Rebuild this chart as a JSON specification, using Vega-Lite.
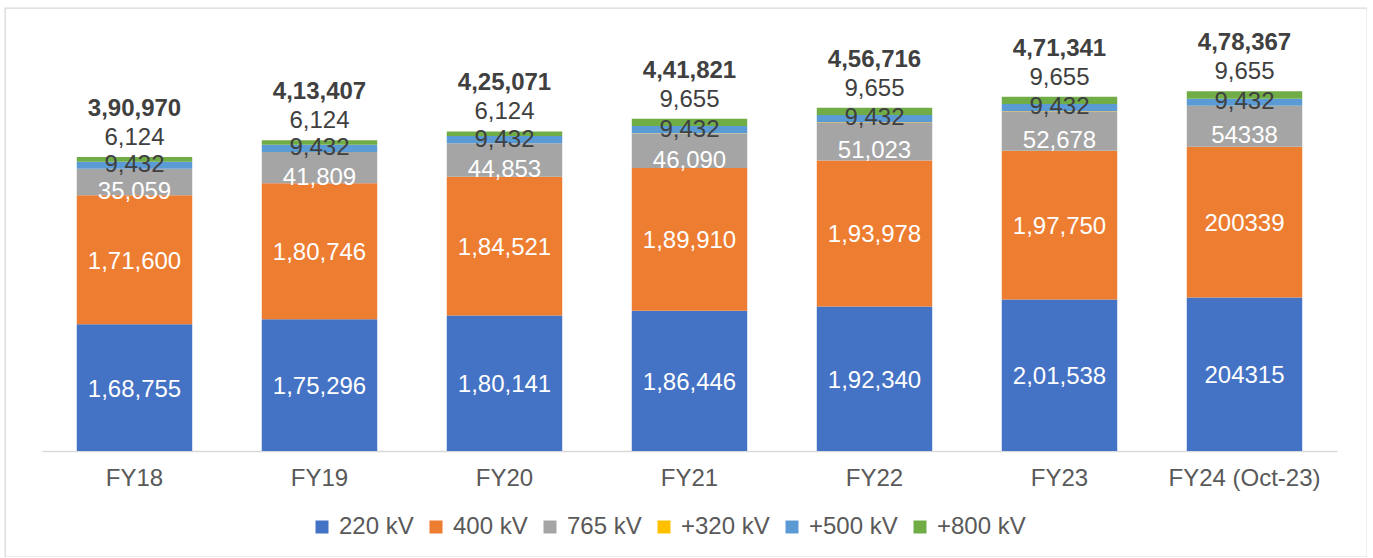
{
  "$schema": "https://vega.github.io/schema/vega-lite/v6.json",
  "autosize": {"type": "none"},
  "padding": {"left": 5, "top": 8, "right": 0, "bottom": 0},
  "width": 1362,
  "height": 549,
  "background": "white",
  "config": {
    "view": {"stroke": "#D9D9D9", "strokeWidth": 1.3},
    "font": "Liberation Sans",
    "text": {"font": "Liberation Sans", "fontSize": 24, "baseline": "middle", "align": "center"}
  },
  "datasets": {
    "segments": [
      {"year": "FY18", "series": "220 kV", "value": 168755, "label": "1,68,755"},
      {"year": "FY18", "series": "400 kV", "value": 171600, "label": "1,71,600"},
      {"year": "FY18", "series": "765 kV", "value": 35059, "label": "35,059"},
      {"year": "FY18", "series": "+320 kV", "value": 0, "label": ""},
      {"year": "FY18", "series": "+500 kV", "value": 9432, "label": "9,432"},
      {"year": "FY18", "series": "+800 kV", "value": 6124, "label": "6,124"},
      {"year": "FY19", "series": "220 kV", "value": 175296, "label": "1,75,296"},
      {"year": "FY19", "series": "400 kV", "value": 180746, "label": "1,80,746"},
      {"year": "FY19", "series": "765 kV", "value": 41809, "label": "41,809"},
      {"year": "FY19", "series": "+320 kV", "value": 0, "label": ""},
      {"year": "FY19", "series": "+500 kV", "value": 9432, "label": "9,432"},
      {"year": "FY19", "series": "+800 kV", "value": 6124, "label": "6,124"},
      {"year": "FY20", "series": "220 kV", "value": 180141, "label": "1,80,141"},
      {"year": "FY20", "series": "400 kV", "value": 184521, "label": "1,84,521"},
      {"year": "FY20", "series": "765 kV", "value": 44853, "label": "44,853"},
      {"year": "FY20", "series": "+320 kV", "value": 0, "label": ""},
      {"year": "FY20", "series": "+500 kV", "value": 9432, "label": "9,432"},
      {"year": "FY20", "series": "+800 kV", "value": 6124, "label": "6,124"},
      {"year": "FY21", "series": "220 kV", "value": 186446, "label": "1,86,446"},
      {"year": "FY21", "series": "400 kV", "value": 189910, "label": "1,89,910"},
      {"year": "FY21", "series": "765 kV", "value": 46090, "label": "46,090"},
      {"year": "FY21", "series": "+320 kV", "value": 288, "label": ""},
      {"year": "FY21", "series": "+500 kV", "value": 9432, "label": "9,432"},
      {"year": "FY21", "series": "+800 kV", "value": 9655, "label": "9,655"},
      {"year": "FY22", "series": "220 kV", "value": 192340, "label": "1,92,340"},
      {"year": "FY22", "series": "400 kV", "value": 193978, "label": "1,93,978"},
      {"year": "FY22", "series": "765 kV", "value": 51023, "label": "51,023"},
      {"year": "FY22", "series": "+320 kV", "value": 288, "label": ""},
      {"year": "FY22", "series": "+500 kV", "value": 9432, "label": "9,432"},
      {"year": "FY22", "series": "+800 kV", "value": 9655, "label": "9,655"},
      {"year": "FY23", "series": "220 kV", "value": 201538, "label": "2,01,538"},
      {"year": "FY23", "series": "400 kV", "value": 197750, "label": "1,97,750"},
      {"year": "FY23", "series": "765 kV", "value": 52678, "label": "52,678"},
      {"year": "FY23", "series": "+320 kV", "value": 288, "label": ""},
      {"year": "FY23", "series": "+500 kV", "value": 9432, "label": "9,432"},
      {"year": "FY23", "series": "+800 kV", "value": 9655, "label": "9,655"},
      {"year": "FY24 (Oct-23)", "series": "220 kV", "value": 204315, "label": "204315"},
      {"year": "FY24 (Oct-23)", "series": "400 kV", "value": 200339, "label": "200339"},
      {"year": "FY24 (Oct-23)", "series": "765 kV", "value": 54338, "label": "54338"},
      {"year": "FY24 (Oct-23)", "series": "+320 kV", "value": 288, "label": ""},
      {"year": "FY24 (Oct-23)", "series": "+500 kV", "value": 9432, "label": "9,432"},
      {"year": "FY24 (Oct-23)", "series": "+800 kV", "value": 9655, "label": "9,655"}
    ],
    "totals": [
      {"year": "FY18", "total": 390970, "label": "3,90,970"},
      {"year": "FY19", "total": 413407, "label": "4,13,407"},
      {"year": "FY20", "total": 425071, "label": "4,25,071"},
      {"year": "FY21", "total": 441821, "label": "4,41,821"},
      {"year": "FY22", "total": 456716, "label": "4,56,716"},
      {"year": "FY23", "total": 471341, "label": "4,71,341"},
      {"year": "FY24 (Oct-23)", "total": 478367, "label": "4,78,367"}
    ]
  },
  "layer": [
    {
      "data": {"name": "segments"},
      "transform": [
        {"calculate": "indexof(['220 kV','400 kV','765 kV','+320 kV','+500 kV','+800 kV'], datum.series)", "as": "k"},
        {"stack": "value", "groupby": ["year"], "sort": [{"field": "k", "order": "ascending"}], "as": ["v0", "v1"]},
        {"calculate": "(datum.v0 + datum.v1) / 2", "as": "mid"}
      ],
      "layer": [
        {
          "mark": {"type": "bar"},
          "encoding": {
            "x": {
              "field": "year", "type": "nominal", "sort": null,
              "scale": {"range": [37, 1332], "paddingInner": 0.376, "paddingOuter": 0.188},
              "axis": {
                "title": null, "labelAngle": 0, "ticks": false, "offset": -106,
                "domainColor": "#D9D9D9", "domainWidth": 1.5,
                "labelFont": "Liberation Sans", "labelFontSize": 24, "labelColor": "#595959",
                "labelPadding": 15
              }
            },
            "y": {
              "field": "v0", "type": "quantitative",
              "scale": {"domain": [0, 560000], "range": [443, 22], "nice": false, "zero": true},
              "axis": null
            },
            "y2": {"field": "v1"},
            "color": {
              "field": "series", "type": "nominal",
              "scale": {
                "domain": ["220 kV", "400 kV", "765 kV", "+320 kV", "+500 kV", "+800 kV"],
                "range": ["#4472C4", "#ED7D31", "#A5A5A5", "#FFC000", "#5B9BD5", "#70AD47"]
              },
              "legend": {
                "title": null, "orient": "none", "direction": "horizontal",
                "legendX": 305, "legendY": 507,
                "symbolType": "square", "symbolSize": 169, "symbolStrokeWidth": 0,
                "labelFont": "Liberation Sans", "labelFontSize": 24, "labelColor": "#595959",
                "labelOffset": 5, "columnPadding": 10
              }
            }
          }
        },
        {
          "transform": [{"filter": "datum.series === '220 kV' || datum.series === '400 kV'"}],
          "mark": {"type": "text", "color": "white", "dy": 2},
          "encoding": {
            "x": {"field": "year", "type": "nominal", "sort": null},
            "y": {"field": "mid", "type": "quantitative"},
            "text": {"field": "label"}
          }
        },
        {
          "transform": [{"filter": "datum.series === '765 kV'"}],
          "mark": {"type": "text", "color": "white", "dy": 10},
          "encoding": {
            "x": {"field": "year", "type": "nominal", "sort": null},
            "y": {"field": "mid", "type": "quantitative"},
            "text": {"field": "label"}
          }
        },
        {
          "transform": [{"filter": "datum.series === '+500 kV'"}],
          "mark": {"type": "text", "color": "#404040"},
          "encoding": {
            "x": {"field": "year", "type": "nominal", "sort": null},
            "y": {"field": "mid", "type": "quantitative"},
            "text": {"field": "label"}
          }
        },
        {
          "transform": [{"filter": "datum.series === '+800 kV'"}],
          "mark": {"type": "text", "color": "#404040", "dy": -19},
          "encoding": {
            "x": {"field": "year", "type": "nominal", "sort": null},
            "y": {"field": "v1", "type": "quantitative"},
            "text": {"field": "label"}
          }
        }
      ]
    },
    {
      "data": {"name": "totals"},
      "mark": {"type": "text", "color": "#404040", "fontWeight": "bold", "dy": -48},
      "encoding": {
        "x": {"field": "year", "type": "nominal", "sort": null},
        "y": {"field": "total", "type": "quantitative"},
        "text": {"field": "label"}
      }
    }
  ]
}
